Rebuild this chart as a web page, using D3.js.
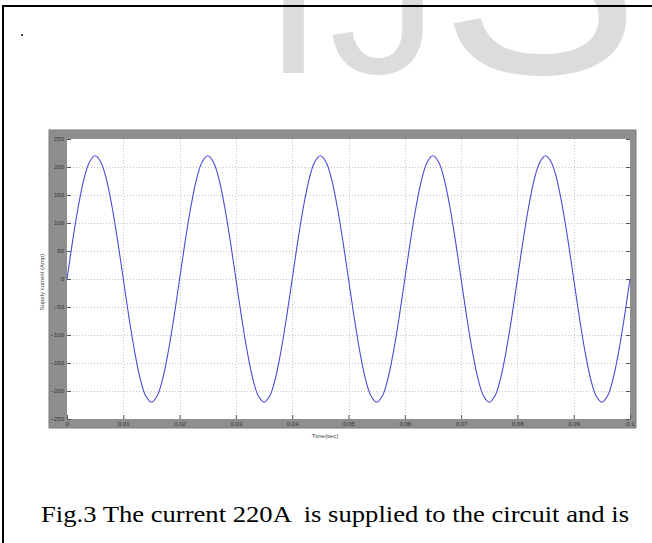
<!DOCTYPE html>
<html><head><meta charset="utf-8">
<script src="https://cdn.jsdelivr.net/npm/d3@7"></script>
<style>html,body{margin:0;padding:0;background:#fff;}svg{display:block;}</style>
</head><body>
<script>
// ---- data ----
const yTicks = [250, 200, 150, 100, 50, 0, -50, -100, -150, -200, -250];
const xTicks = [0, 0.01, 0.02, 0.03, 0.04, 0.05, 0.06, 0.07, 0.08, 0.09, 0.1];
const xTickLabels = ["0", "0.01", "0.02", "0.03", "0.04", "0.05", "0.06", "0.07", "0.08", "0.09", "0.1"];
const timeSec = [
  0,0.001,0.002,0.003,0.004,0.005,0.006,0.007,0.008,0.009,
  0.010,0.011,0.012,0.013,0.014,0.015,0.016,0.017,0.018,0.019,
  0.020,0.021,0.022,0.023,0.024,0.025,0.026,0.027,0.028,0.029,
  0.030,0.031,0.032,0.033,0.034,0.035,0.036,0.037,0.038,0.039,
  0.040,0.041,0.042,0.043,0.044,0.045,0.046,0.047,0.048,0.049,
  0.050,0.051,0.052,0.053,0.054,0.055,0.056,0.057,0.058,0.059,
  0.060,0.061,0.062,0.063,0.064,0.065,0.066,0.067,0.068,0.069,
  0.070,0.071,0.072,0.073,0.074,0.075,0.076,0.077,0.078,0.079,
  0.080,0.081,0.082,0.083,0.084,0.085,0.086,0.087,0.088,0.089,
  0.090,0.091,0.092,0.093,0.094,0.095,0.096,0.097,0.098,0.099,
  0.100];
const supplyCurrent = [
  0,68,129,178,209,220,209,178,129,68,0,-68,-129,-178,-209,-220,-209,-178,-129,-68,
  0,68,129,178,209,220,209,178,129,68,0,-68,-129,-178,-209,-220,-209,-178,-129,-68,
  0,68,129,178,209,220,209,178,129,68,0,-68,-129,-178,-209,-220,-209,-178,-129,-68,
  0,68,129,178,209,220,209,178,129,68,0,-68,-129,-178,-209,-220,-209,-178,-129,-68,
  0,68,129,178,209,220,209,178,129,68,0,-68,-129,-178,-209,-220,-209,-178,-129,-68,
  0];
const xLabel = "Time(sec)";
const yLabel = "Supply current (Amp)";
const caption = "Fig.3 The current 220A  is supplied to the circuit and is";

// ---- drawing ----
const W = 652, H = 543;
const svg = d3.select("body").append("svg").attr("width", W).attr("height", H);

// watermark (cut by the top edge, as in the source page)
const wm = svg.append("g").attr("fill", "#dcdcdc").attr("font-family", "Liberation Sans, Arial, sans-serif");
wm.append("text").attr("x", 263).attr("y", 73).attr("font-size", 220).text("I");
wm.append("text").attr("x", 329).attr("y", 73).attr("font-size", 220).text("J");
wm.append("text").attr("x", 440).attr("y", 73).attr("font-size", 300).text("S");

// page frame
svg.append("path").attr("d", "M3,700 L3,6 L700,6").attr("fill", "none").attr("stroke", "#000").attr("stroke-width", 2);

// little dot
svg.append("circle").attr("cx", 22).attr("cy", 35).attr("r", 1).attr("fill", "#000");

const L = 67, R = 630, T = 139, B = 419;
const x = d3.scaleLinear().domain([0, 0.1]).range([L, R]);
const y = d3.scaleLinear().domain([-250, 250]).range([B, T]);

// grey scope frame
svg.append("rect").attr("x", 49).attr("y", 130).attr("width", 587).attr("height", 298)
  .attr("fill", "#8e8e8e").attr("stroke", "#7a7a7a").attr("stroke-width", 1);
svg.append("rect").attr("x", L).attr("y", T).attr("width", R - L).attr("height", B - T).attr("fill", "#fff");

// grid
const grid = svg.append("g").attr("stroke", "#c4c4c4").attr("stroke-width", 1).attr("stroke-dasharray", "1,2");
grid.selectAll("line.gy").data(yTicks.filter(v => Math.abs(v) < 250)).enter().append("line")
  .attr("x1", L).attr("x2", R).attr("y1", d => Math.round(y(d)) + 0.5).attr("y2", d => Math.round(y(d)) + 0.5);
grid.selectAll("line.gx").data(xTicks.filter(v => v > 0 && v < 0.1)).enter().append("line")
  .attr("y1", T).attr("y2", B).attr("x1", d => Math.round(x(d)) + 0.5).attr("x2", d => Math.round(x(d)) + 0.5);

// axes
const axL = svg.append("g").attr("transform", `translate(${L},0)`)
  .call(d3.axisLeft(y).tickValues(yTicks).tickSize(-4).tickPadding(3).tickFormat(d3.format("d")));
const axR = svg.append("g").attr("transform", `translate(${R},0)`)
  .call(d3.axisRight(y).tickValues(yTicks).tickSize(-4).tickFormat(""));
const axB = svg.append("g").attr("transform", `translate(0,${B})`)
  .call(d3.axisBottom(x).tickValues(xTicks).tickSize(-4).tickPadding(2).tickFormat((d, i) => xTickLabels[i]));
[axL, axR, axB].forEach(a => {
  a.select(".domain").remove();
  a.selectAll(".tick line").attr("stroke", "#555");
  a.selectAll("text").attr("font-family", "Liberation Sans, Arial, sans-serif").attr("font-size", 6).attr("fill", "#333");
});
axB.selectAll("text").attr("dy", "0.9em");

// curve
const line = d3.line().x((d, i) => x(timeSec[i])).y(d => y(d)).curve(d3.curveCatmullRom);
svg.append("path").datum(supplyCurrent).attr("d", line)
  .attr("fill", "none").attr("stroke", "#4a4ad6").attr("stroke-width", 1.1);

// axis labels
svg.append("text").attr("x", 325).attr("y", 438).attr("text-anchor", "middle")
  .attr("font-family", "Liberation Sans, Arial, sans-serif").attr("font-size", 6).attr("fill", "#444").text(xLabel);
svg.append("text").attr("transform", "translate(44,282) rotate(-90)").attr("text-anchor", "middle")
  .attr("font-family", "Liberation Sans, Arial, sans-serif").attr("font-size", 6).attr("fill", "#444").text(yLabel);

// caption
svg.append("text").attr("x", 41).attr("y", 522).attr("xml:space", "preserve").style("white-space", "pre")
  .attr("textLength", 588).attr("lengthAdjust", "spacingAndGlyphs")
  .attr("font-family", "Liberation Serif, Times New Roman, serif").attr("font-size", 23).attr("fill", "#000").text(caption);
</script>
</body></html>
